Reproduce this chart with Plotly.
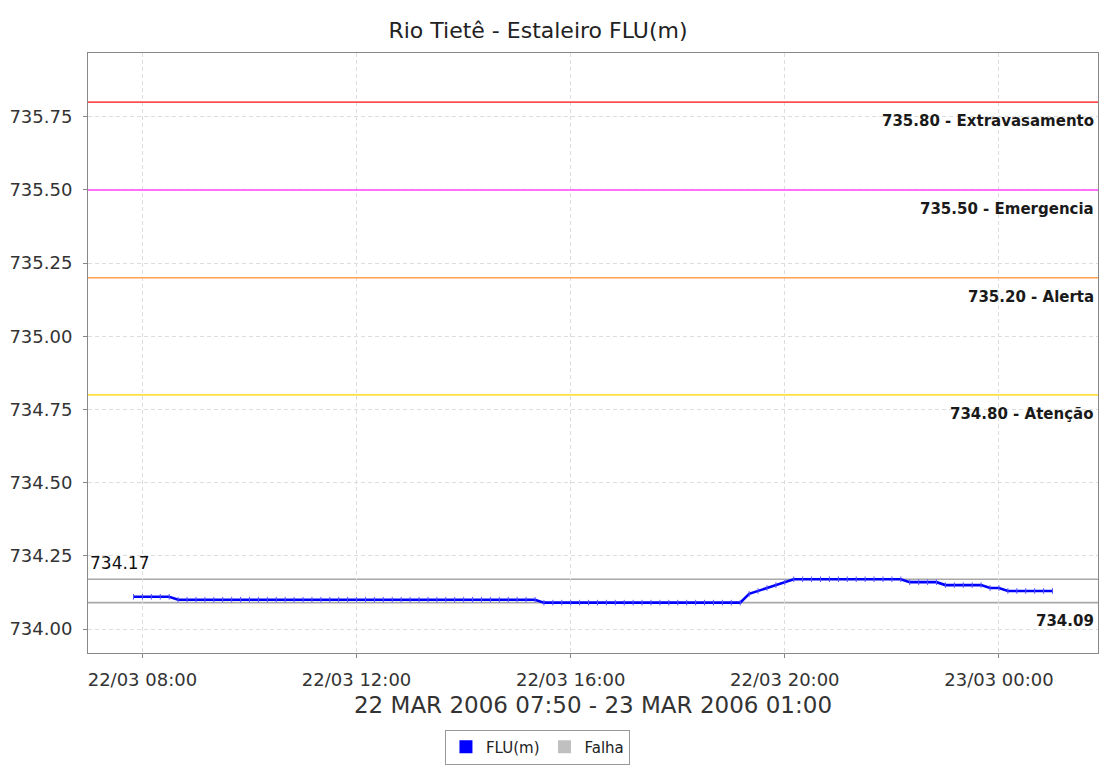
import pandas as pd
import plotly.graph_objects as go

# ---------------- data ----------------
start_time = "2006-03-22 07:50"
interval = "10min"
flu_values = [
    734.11, 734.11, 734.11, 734.11, 734.11,
    734.10, 734.10, 734.10, 734.10, 734.10, 734.10, 734.10, 734.10, 734.10, 734.10,
    734.10, 734.10, 734.10, 734.10, 734.10, 734.10, 734.10, 734.10, 734.10, 734.10,
    734.10, 734.10, 734.10, 734.10, 734.10, 734.10, 734.10, 734.10, 734.10, 734.10,
    734.10, 734.10, 734.10, 734.10, 734.10, 734.10, 734.10, 734.10, 734.10, 734.10,
    734.10,
    734.09, 734.09, 734.09, 734.09, 734.09, 734.09, 734.09, 734.09, 734.09, 734.09,
    734.09, 734.09, 734.09, 734.09, 734.09, 734.09, 734.09, 734.09, 734.09, 734.09,
    734.09, 734.09, 734.09,
    734.12, 734.13, 734.14, 734.15, 734.16,
    734.17, 734.17, 734.17, 734.17, 734.17, 734.17, 734.17, 734.17, 734.17, 734.17,
    734.17, 734.17, 734.17,
    734.16, 734.16, 734.16, 734.16,
    734.15, 734.15, 734.15, 734.15, 734.15,
    734.14, 734.14,
    734.13, 734.13, 734.13, 734.13, 734.13, 734.13,
]
times = pd.date_range(start_time, periods=len(flu_values), freq=interval)

threshold_values = [735.80, 735.50, 735.20, 734.80]
threshold_names = ["Extravasamento", "Emergencia", "Alerta", "Atenção"]
threshold_colors = ["#FF5050", "#FF44FF", "#FFA050", "#FFE040"]

title_text = "Rio Tietê - Estaleiro FLU(m)"
x_title = "22 MAR 2006 07:50 - 23 MAR 2006 01:00"
x_range = ["2006-03-22 06:59", "2006-03-23 01:51"]
y_range = [733.918, 735.968]
y_ticks = [734.00, 734.25, 734.50, 734.75, 735.00, 735.25, 735.50, 735.75]

FONT = "DejaVu Sans"

fig = go.Figure()

# main series
fig.add_trace(go.Scatter(
    x=times, y=flu_values, mode="lines+markers",
    line=dict(color="#0000FF", width=2.6),
    marker=dict(symbol="line-ns", size=4, line=dict(color="#5555FF", width=1)),
    showlegend=False, hoverinfo="x+y",
))

# legend entries
fig.add_trace(go.Scatter(x=[None], y=[None], mode="markers", name="FLU(m)",
                         marker=dict(symbol="square", size=13, color="#0000FF")))
fig.add_trace(go.Scatter(x=[None], y=[None], mode="markers", name="Falha",
                         marker=dict(symbol="square", size=13, color="#C0C0C0")))

shapes = []
annotations = []
for v, name, c in zip(threshold_values, threshold_names, threshold_colors):
    shapes.append(dict(type="line", xref="paper", x0=0, x1=1, yref="y", y0=v, y1=v,
                       line=dict(color=c, width=1.6), layer="above"))
    annotations.append(dict(xref="paper", x=0.998, yref="y", y=v, xanchor="right", yanchor="top",
                            yshift=-8, text=f"{v:.2f} - {name}", showarrow=False,
                            font=dict(family=FONT, size=15, weight="bold", color="#1a1a1a")))

vmax = max(flu_values)
vmin = min(flu_values)
for v in (vmax, vmin):
    shapes.append(dict(type="line", xref="paper", x0=0, x1=1, yref="y", y0=v, y1=v,
                       line=dict(color="#A8A8A8", width=1.6), layer="below"))
annotations.append(dict(xref="paper", x=0.0, yref="y", y=vmax, xanchor="left", yanchor="bottom",
                        yshift=4, text=f"{vmax:.2f}", showarrow=False,
                        font=dict(family=FONT, size=17, color="#111111")))
annotations.append(dict(xref="paper", x=0.998, yref="y", y=vmin, xanchor="right", yanchor="top",
                        yshift=-7, text=f"{vmin:.2f}", showarrow=False,
                        font=dict(family=FONT, size=15, weight="bold", color="#1a1a1a")))

fig.update_layout(
    width=1101, height=766,
    margin=dict(l=88, r=3, t=53, b=112),
    paper_bgcolor="white", plot_bgcolor="white",
    font=dict(family=FONT, color="#333333"),
    title=dict(text=title_text, x=538 / 1101, xanchor="center", y=1 - 30 / 766,
               yanchor="middle", font=dict(family=FONT, size=22, color="#222222")),
    shapes=shapes, annotations=annotations,
    legend=dict(orientation="h", x=0.445, xanchor="center", y=-0.184, yanchor="bottom",
                bordercolor="#999999", borderwidth=1, bgcolor="white",
                font=dict(family=FONT, size=15, color="#222222"),
                itemwidth=30, tracegroupgap=0),
    hovermode="closest",
)

fig.update_xaxes(
    range=x_range, type="date",
    tick0="2006-03-22 00:00", dtick=4 * 3600 * 1000, tickformat="%d/%m %H:%M",
    showgrid=True, gridcolor="#DDDDDD", griddash="4px,3px", gridwidth=1,
    showline=True, linecolor="#888888", linewidth=1, mirror=True,
    ticks="outside", ticklen=4, tickcolor="#888888", ticklabelstandoff=6,
    tickfont=dict(family=FONT, size=18, color="#333333"),
    title=dict(text=x_title, font=dict(family=FONT, size=23, color="#333333"), standoff=8),
    zeroline=False, automargin=False,
)
fig.update_yaxes(
    range=y_range, tickvals=y_ticks, ticktext=[f"{t:.2f}" for t in y_ticks],
    showgrid=True, gridcolor="#DDDDDD", griddash="4px,3px", gridwidth=1,
    showline=True, linecolor="#888888", linewidth=1, mirror=True,
    ticks="outside", ticklen=4, tickcolor="#888888", ticklabelstandoff=7,
    tickfont=dict(family=FONT, size=18, color="#333333"),
    zeroline=False, automargin=False,
)

fig.write_html("out.html", config={"displayModeBar": False},
               post_script="document.body.style.margin='0';")
